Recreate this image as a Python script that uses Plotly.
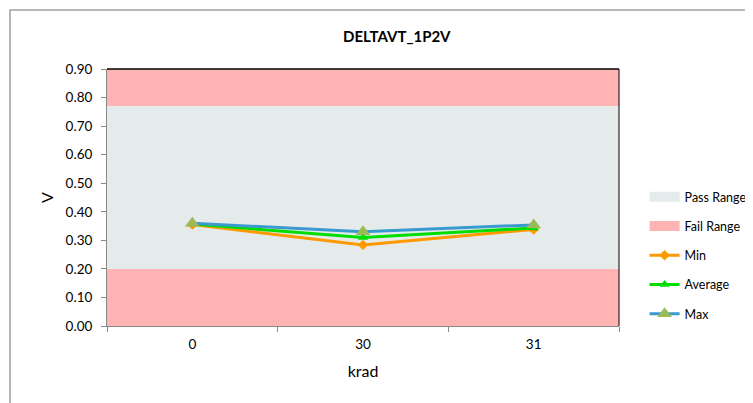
import plotly.graph_objects as go

# Data
categories = ["0", "30", "31"]
min_vals = [0.355, 0.284, 0.338]
avg_vals = [0.357, 0.310, 0.343]
max_vals = [0.360, 0.330, 0.354]
pass_low = 0.20
pass_high = 0.77
axis_max = 0.90

fail_color = "#FFB3B3"
pass_color = "#E5EBEB"
font = "Lato, 'Open Sans', sans-serif"

# page body has an 8px margin, so the figure is 8px smaller and shifted
W, H = 745, 395
L, T, PW, PH = 99, 61, 512, 257

data = []
# background bands as stacked bars spanning each category
data.append(go.Bar(x=categories, y=[pass_low] * 3, marker=dict(color=fail_color, line=dict(width=0)),
                   showlegend=False, hoverinfo="skip", width=1))
data.append(go.Bar(x=categories, y=[pass_high - pass_low] * 3, marker=dict(color=pass_color, line=dict(width=0)),
                   showlegend=False, hoverinfo="skip", width=1))
data.append(go.Bar(x=categories, y=[axis_max - pass_high] * 3, marker=dict(color=fail_color, line=dict(width=0)),
                   showlegend=False, hoverinfo="skip", width=1))

# legend-only entries with wide rectangle swatches
data.append(go.Scatter(x=[None], y=[None], mode="lines", name="Pass Range", legendgroup="pass",
                       line=dict(color=pass_color, width=10)))
data.append(go.Scatter(x=[None], y=[None], mode="lines", name="Fail Range", legendgroup="fail",
                       line=dict(color=fail_color, width=10)))

data.append(go.Scatter(x=categories, y=min_vals, mode="lines+markers", name="Min", legendgroup="min",
                       line=dict(color="#FF9900", width=3),
                       marker=dict(symbol="diamond", size=8, color="#FF9900")))
data.append(go.Scatter(x=categories, y=avg_vals, mode="lines+markers", name="Average", legendgroup="avg",
                       line=dict(color="#00DD00", width=3),
                       marker=dict(symbol="triangle-up", size=9, color="#00DD00")))
data.append(go.Scatter(x=categories, y=max_vals, mode="lines+markers", name="Max", legendgroup="max",
                       line=dict(color="#3A9AD0", width=3),
                       marker=dict(symbol="triangle-up", size=13, color="#9BBB59")))

layout = dict(
    width=W, height=H,
    margin=dict(l=L, r=W - L - PW, t=T, b=H - T - PH, autoexpand=False),
    paper_bgcolor="white", plot_bgcolor="white",
    font=dict(family=font, size=13.5, color="black"),
    title=dict(text="<b>DELTAVT_1P2V</b>", x=0.566, xanchor="center", xref="paper",
               y=1 - 29 / H, yanchor="middle", font=dict(size=15), automargin=False),
    barmode="stack", bargap=0,
    xaxis=dict(type="category", tickson="boundaries", ticks="outside", ticklen=5,
               tickcolor="#888888", showline=True, linecolor="#888888", linewidth=1,
               showgrid=False, range=[-0.5, 2.5], automargin=False, ticklabelstandoff=6,
               title=dict(text="krad", font=dict(size=16), standoff=14)),
    yaxis=dict(range=[0, axis_max], dtick=0.1, tickformat=".2f", ticks="outside", ticklen=5,
               tickcolor="#888888", showline=True, linecolor="#888888", linewidth=1,
               showgrid=False, zeroline=False, automargin=False, ticklabelstandoff=6,
               title=dict(text="V", font=dict(size=16), standoff=8)),
    legend=dict(x=1.05, y=0.56, xanchor="left", yanchor="top", traceorder="grouped",
                tracegroupgap=10, font=dict(size=12.5), bgcolor="rgba(0,0,0,0)"),
    showlegend=True,
    shapes=[
        # plot area top and right border
        dict(type="line", xref="paper", yref="paper", x0=0, x1=1, y0=1, y1=1,
             line=dict(color="black", width=1.5)),
        dict(type="line", xref="paper", yref="paper", x0=1, x1=1, y0=0, y1=1,
             line=dict(color="black", width=1)),
        # chart outer frame
        dict(type="rect", xref="paper", yref="paper",
             x0=(2 - L) / PW, x1=(780 - L) / PW,
             y0=(T + PH - 420) / PH, y1=(T + PH - 2) / PH,
             line=dict(color="#A0A0A0", width=1.5), layer="below"),
    ],
)

fig = go.Figure(data=data, layout=layout)
fig.write_html("out.html")
